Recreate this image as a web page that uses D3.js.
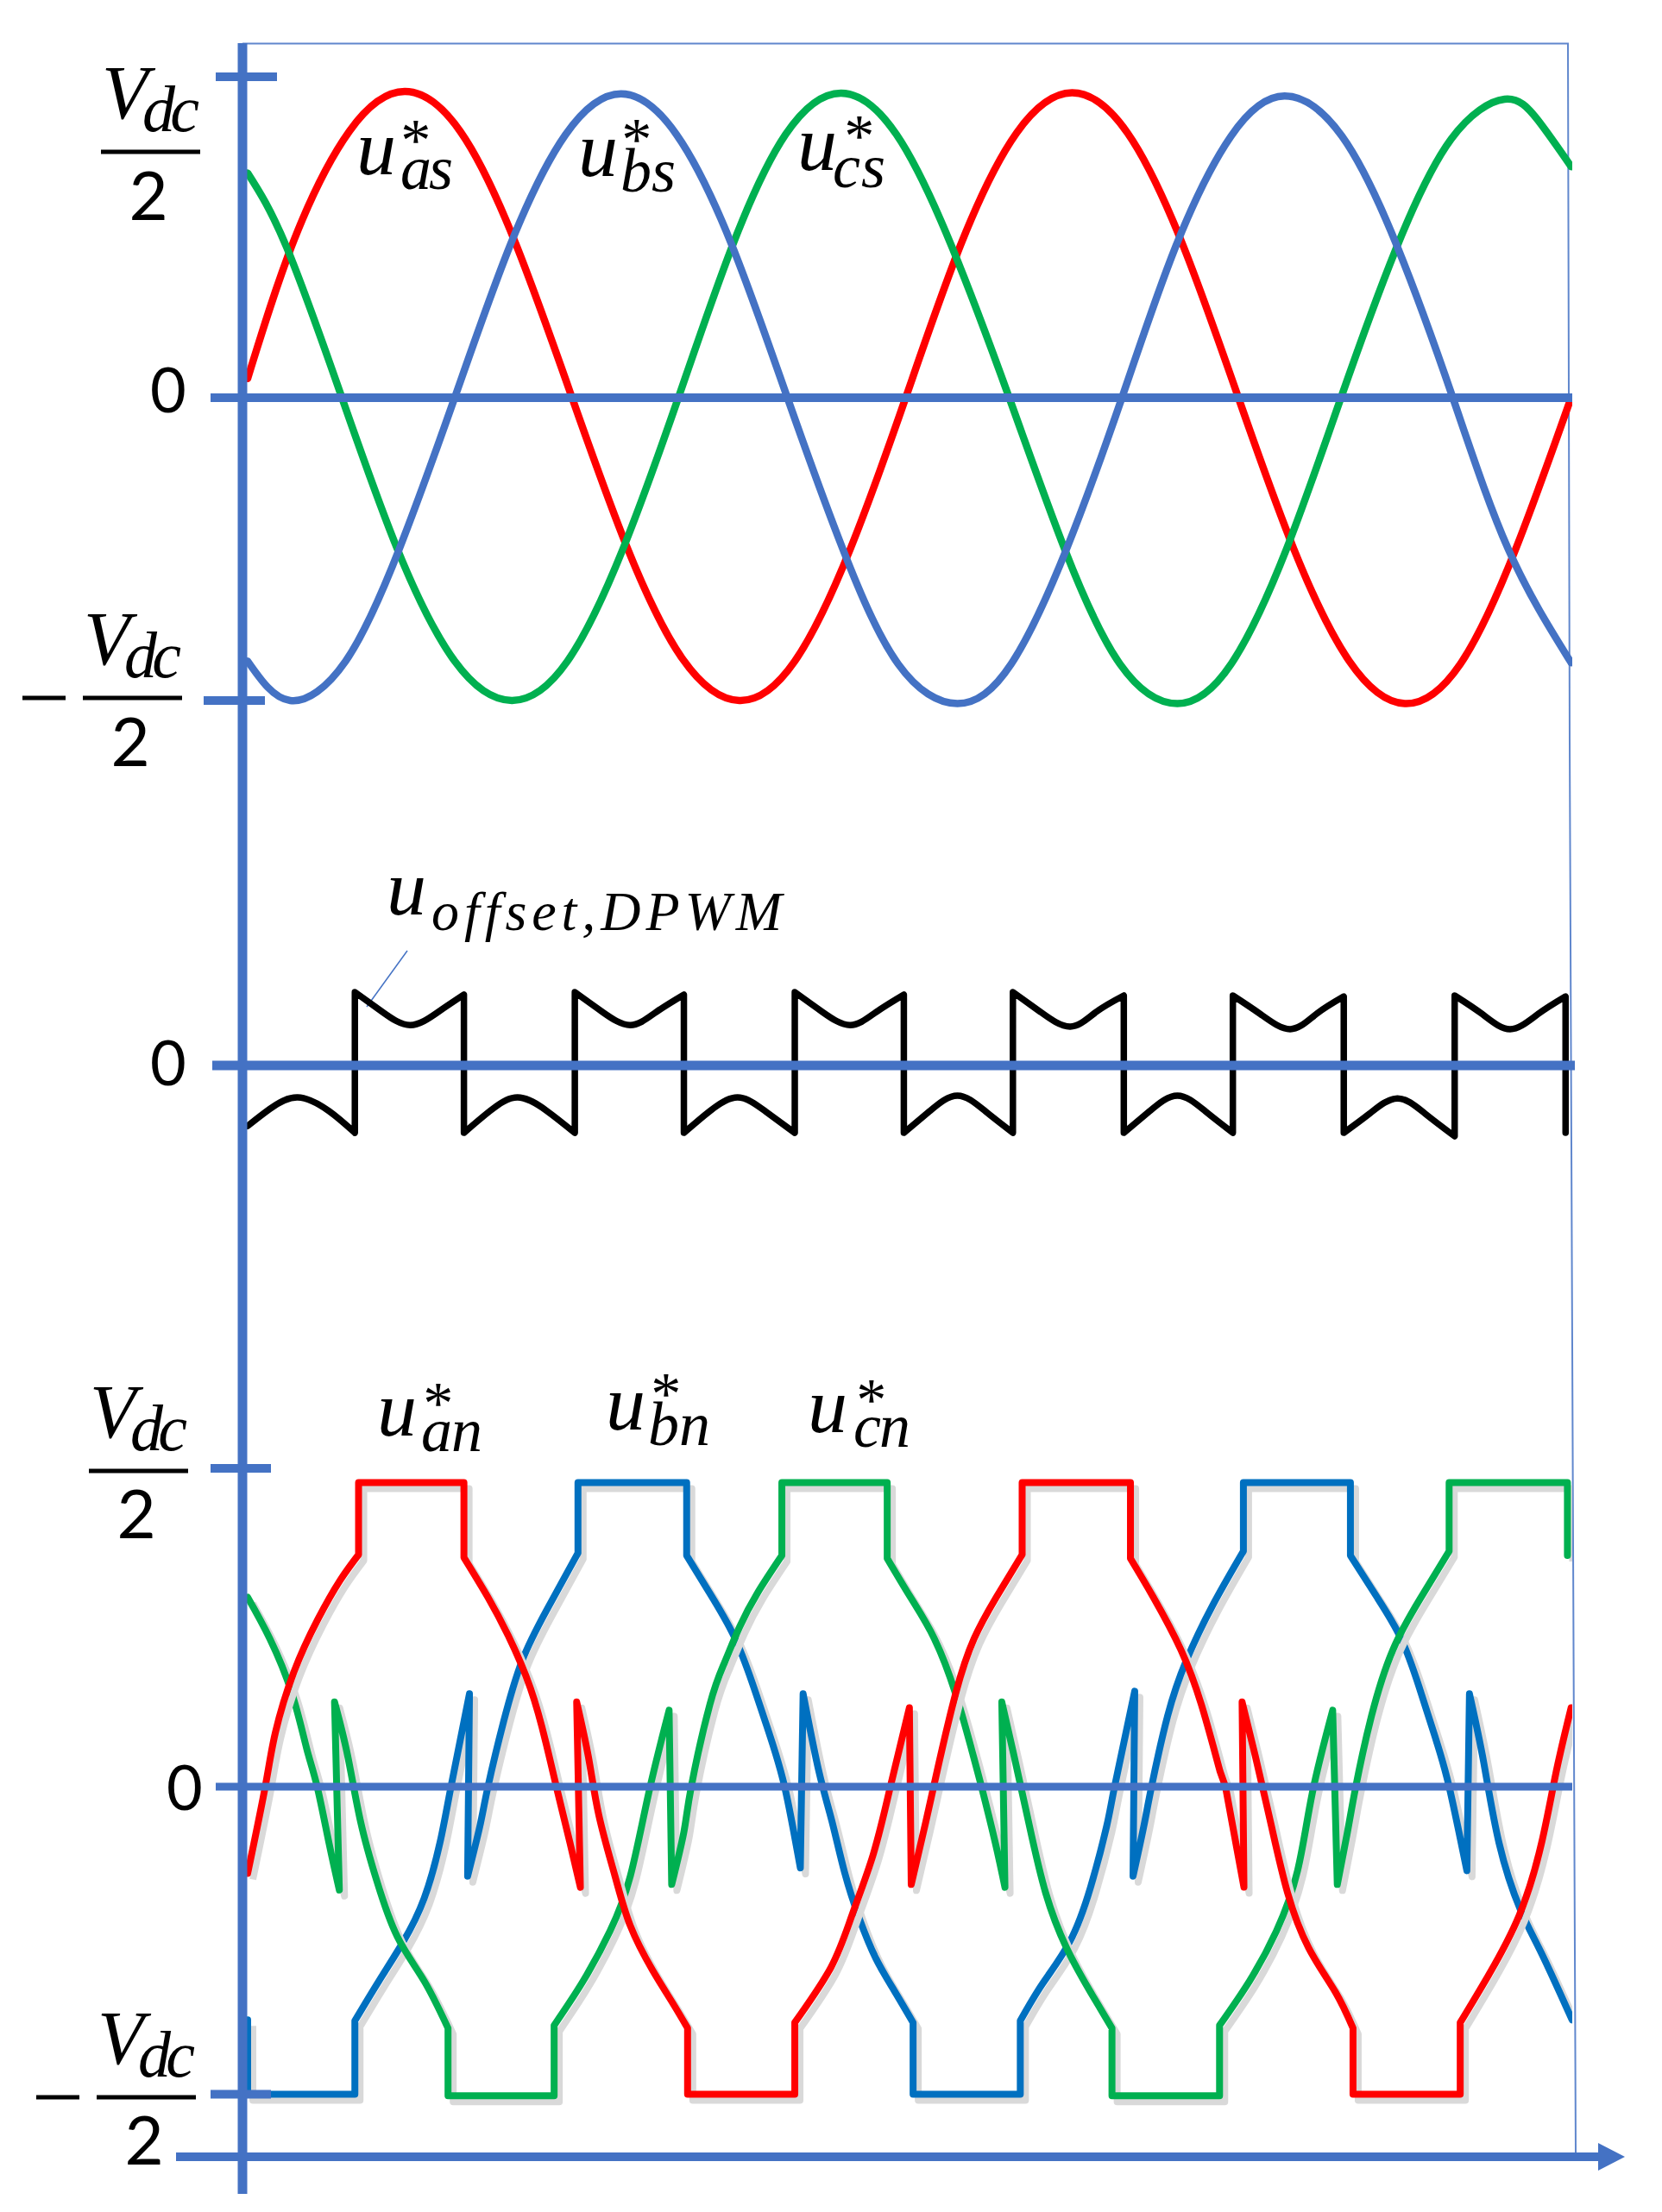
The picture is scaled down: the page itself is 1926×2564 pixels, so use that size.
<!DOCTYPE html>
<html>
<head>
<meta charset="utf-8">
<title>DPWM voltage references</title>
<script src="https://cdn.jsdelivr.net/npm/d3@7"></script>
<style>
  html, body { margin: 0; padding: 0; background: #fff; }
  svg { display: block; }
</style>
</head>
<body>
<script>
// all series are [angle in degrees, voltage in units of Vdc/2]

// top panel: phase voltages
var uAs = [[0,.06],[25,.49],[55,.83],[85,.954],[115,.83],[145,.48],[175.5,0],[205,-.49],[235,-.86],[266,-1],[296,-.87],[326,-.5],[356,0],[386,.48],[416,.825],[446,.95],[476,.825],[506,.475],[536,0],[566,-.5],[596,-.87],[626,-1.01],[656,-.88],[686,-.5],[716,0]];
var uBs = [[0,-.87],[23,-1],[53,-.87],[82,-.5],[112,0],[142,.475],[172,.82],[202,.947],[232,.82],[262,.475],[292,0],[322,-.5],[352,-.88],[384,-1.01],[413,-.88],[443,-.5],[473,0],[502,.47],[532,.815],[561,.94],[592,.815],[622,.47],[652,0],[682,-.5],[716,-.875]];
var uCs = [[0,.7],[21,.47],[51,0],[81,-.5],[112,-.87],[143,-1],[173,-.87],[203,-.5],[233,0],[262,.47],[291,.82],[321,.949],[351,.82],[381,.47],[412,0],[442,-.5],[472,-.88],[503,-1.01],[532,-.88],[562,-.5],[591.5,0],[621,.46],[651,.805],[680,.93],[698,.865],[716,.72]];

// middle panel: offset signal
var uOffset = [
  [0,-.195],[12,-.14],[27,-.103],[44,-.147],[58,-.217],
  [58,.236],[73,.172],[88,.13],[103,.172],[117,.228],
  [117,-.217],[131,-.147],[146,-.103],[162,-.147],[177,-.217],
  [177,.236],[192,.172],[207,.13],[221,.172],[236,.228],
  [236,-.217],[250,-.147],[265,-.103],[280,-.147],[296,-.217],
  [296,.236],[311,.172],[326,.13],[340,.172],[355,.228],
  [355,-.217],[369,-.147],[384,-.097],[399,-.147],[414,-.217],
  [414,.236],[429,.172],[445,.125],[459,.172],[474,.225],
  [474,-.217],[488,-.147],[503,-.097],[518,-.147],[533,-.217],
  [533,.225],[548,.165],[564,.117],[578,.165],[593,.222],
  [593,-.217],[607,-.155],[622,-.106],[637,-.155],[653,-.228],
  [653,.225],[668,.165],[683,.117],[698,.165],[713,.222],
  [713,-.217]
];

// bottom panel: pole voltages after offset injection
var uAn = [[0,-.282],[9.5,0],[15,.17],[25,.36],[38,.526],[50,.648],[60,.729],[60,.955],[117,.955],[117,.72],[130,.595],[141,.474],[153,.309],[161.5,.135],[167,0],[174.4,-.183],[180,-.327],[178,.266],[184.4,.092],[190,-.093],[198.7,-.29],[207,-.452],[219,-.596],[230,-.704],[238,-.785],[238,-1],[296,-1],[296,-.767],[315.6,-.587],[327,-.417],[338.5,-.219],[347.7,0],[358,.248],[359,-.318],[367,-.111],[373,.049],[383,.292],[393,.465],[405,.595],[419,.729],[419,.955],[477.6,.955],[477.6,.717],[490,.595],[504.9,.43],[516,.257],[526,.049],[529,0],[539,-.327],[538,.266],[545,.1],[553.9,-.129],[562.6,-.345],[574,-.524],[588.5,-.668],[598,-.785],[598,-1],[656,-1],[656,-.767],[671.2,-.614],[688,-.417],[700,-.183],[708,.049],[716,.248]];
var uBn = [[0,-.758],[0,-1],[58,-1],[58,-.761],[71,-.632],[84,-.506],[95.5,-.363],[104,-.183],[110,0],[120,.292],[119,-.291],[125.6,-.129],[130,0],[138.5,.205],[148.5,.396],[161.5,.552],[178.7,.734],[178.7,.955],[237.5,.955],[237.5,.726],[250.4,.604],[263,.474],[273,.326],[282,.17],[290.5,0],[299,-.264],[300.5,.292],[309,.049],[316,-.11],[323,-.28],[331,-.43],[340,-.56],[350,-.665],[360,-.767],[360,-1],[418,-1],[418,-.761],[430,-.641],[444.6,-.506],[456,-.327],[464.7,-.129],[469,0],[479.9,.3],[479,-.291],[484.8,-.129],[489,0],[497.7,.222],[507.8,.396],[522,.569],[538.7,.74],[538.7,.955],[596.6,.955],[596.6,.726],[611,.595],[624,.465],[634,.309],[642.6,.153],[650,0],[659.6,-.273],[661,.292],[668.5,.083],[677,-.183],[688.5,-.399],[700,-.542],[716.5,-.758]];
var uCn = [[0,.595],[12,.465],[24,.292],[32,.118],[37.6,0],[44,-.183],[49.6,-.336],[47,.266],[54,.1],[61,-.111],[70,-.309],[81,-.488],[95.5,-.632],[108.4,-.785],[108.4,-1.005],[165.8,-1.005],[165.8,-.776],[181.5,-.632],[196,-.47],[207,-.291],[217,-.02],[228,.24],[229.4,-.318],[236,-.147],[240,0],[250,.257],[258,.39],[266,.5],[276,.61],[289,.726],[289,.955],[346,.955],[346,.717],[358.6,.595],[371.5,.465],[383,.292],[391.6,.118],[397,0],[404.5,-.183],[409.7,-.327],[408,.266],[414.5,.1],[423,-.129],[431.7,-.345],[443,-.524],[456,-.668],[467.6,-.785],[467.6,-1.005],[525.8,-1.005],[525.8,-.776],[542,-.632],[556.5,-.47],[568,-.273],[576,-.02],[587,.24],[589.5,-.318],[595,-.147],[599.5,0],[608,.222],[619.6,.43],[634,.587],[650,.74],[650,.955],[714,.955],[714,.726]];

var AXIS = "#4472C4", RED = "#FF0000", GREEN = "#00B050", BLUE1 = "#4472C4", BLUE3 = "#0070C0";

var svg = d3.select("body").append("svg").attr("width", 1926).attr("height", 2564);
svg.append("rect").attr("width", 1926).attr("height", 2564).attr("fill", "#fff");

var x = d3.scaleLinear().domain([0, 714]).range([287, 1816.4]);
var yTop = d3.scaleLinear().domain([-1, 0, 1]).range([812, 461, 89]);
var yMid = d3.scaleLinear().domain([-1, 1]).range([1595, 875]);
var yBot = d3.scaleLinear().domain([-1, 0, 1]).range([2427.5, 2071, 1702]);

svg.append("clipPath").attr("id", "plot").append("rect")
  .attr("x", 283).attr("y", 40).attr("width", 1539).attr("height", 2500);

// near-vertical jumps split a series into runs; each run is smoothed on its own
function wavePath(points, y) {
  var line = d3.line().x(function(d) { return x(d[0]); }).y(function(d) { return y(d[1]); })
    .curve(d3.curveNatural);
  var runs = [], run = [points[0]];
  for (var i = 1; i < points.length; i++) {
    if (Math.abs(points[i][0] - points[i-1][0]) <= 3) { runs.push(run); run = []; }
    run.push(points[i]);
  }
  runs.push(run);
  return runs.map(function(r, i) {
    // a lone point would come back as a closed dot, so just line to it
    var d = r.length > 1 ? line(r) : "M" + x(r[0][0]) + "," + y(r[0][1]);
    return i ? "L" + d.slice(1) : d;
  }).join("");
}

function drawWave(points, y, color, width, shadow) {
  var g = svg.append("g").attr("clip-path", "url(#plot)");
  if (shadow) {
    g.append("path").attr("d", wavePath(points, y)).attr("transform", "translate(6,7)")
      .attr("fill", "none").attr("stroke", "#d9d9d9").attr("stroke-width", width)
      .attr("stroke-linejoin", "round");
  }
  return g.append("path").attr("d", wavePath(points, y))
    .attr("fill", "none").attr("stroke", color).attr("stroke-width", width)
    .attr("stroke-linejoin", "round").attr("stroke-linecap", "round");
}

function hLine(x1, x2, yy, w, color) {
  svg.append("line").attr("x1", x1).attr("x2", x2).attr("y1", yy).attr("y2", yy)
    .attr("stroke", color || AXIS).attr("stroke-width", w);
}

// frame
svg.append("path").attr("d", "M281,50.5 L1817,50.5 L1819,860 L1822,1560 L1826,2495")
  .attr("fill", "none").attr("stroke", AXIS).attr("stroke-width", 2).attr("opacity", 0.85);

drawWave(uAs, yTop, RED, 8.5);
drawWave(uCs, yTop, GREEN, 8.5);
drawWave(uBs, yTop, BLUE1, 8.5);

svg.append("line").attr("x1", 472).attr("y1", 1102).attr("x2", 425).attr("y2", 1167)
  .attr("stroke", AXIS).attr("stroke-width", 1.5);
drawWave(uOffset, yMid, "#000", 7.5);

drawWave(uBn, yBot, BLUE3, 8, true);
drawWave(uCn, yBot, GREEN, 8, true);
drawWave(uAn, yBot, RED, 8, true);

// axes and ticks
hLine(250, 321, yTop(1), 10);
hLine(244, 1822, yTop(0), 10);
hLine(236, 307, yTop(-1), 10);
hLine(246, 1825, yMid(0), 11);
hLine(244, 314, yBot(1), 10);
hLine(250, 1822, yBot(0), 9);
hLine(244, 314, yBot(-1), 10);

svg.append("line").attr("x1", 281).attr("x2", 281).attr("y1", 50).attr("y2", 2543)
  .attr("stroke", AXIS).attr("stroke-width", 11);
hLine(204, 1855, 2500, 10);
svg.append("path").attr("d", d3.line()([[1852, 2484], [1883, 2500], [1852, 2516]]) + "Z").attr("fill", AXIS);

// text
var MATH = "'Liberation Serif', serif", SANS = "Lato, 'Noto Sans', sans-serif";

// one text element with absolutely placed tspans, so scripts can stack
function mathText(parts) {
  var t = svg.append("text").attr("font-family", MATH).attr("font-style", "italic").attr("fill", "#000");
  parts.forEach(function(p) {
    var s = t.append("tspan").attr("x", p[1]).attr("y", p[2]).attr("font-size", p[3]).text(p[0]);
    if (p[4]) s.attr("textLength", p[4]).attr("lengthAdjust", "spacing");
  });
}
function plain(cx, py, str, size) {
  svg.append("text").attr("x", cx).attr("y", py).text(str).attr("text-anchor", "middle")
    .attr("font-family", SANS).attr("font-size", size).attr("fill", "#000");
}
// Vdc over 2, positioned by the left edge of the bar
function fraction(barX, barY, dy2) {
  mathText([["V", barX + 1, barY - 39, 88], ["dc", barX + 48, barY - 24, 76, 66]]);
  hLine(barX, barX + 115, barY, 5, "#000");
  plain(barX + 55, barY + dy2, "2", 78);
}
function uStar(ux, uy, subText, subX, subY, subW, starX, starY) {
  mathText([["u", ux, uy, 92], ["*", starX, starY, 70], [subText, subX, subY, 72, subW]]);
}

fraction(117, 176, 79);
plain(195, 478, "0", 72);
fraction(96, 809, 79);
hLine(26, 76, 809, 5, "#000");

uStar(413, 202, "as", 464, 219, 61, 461, 186);
uStar(670, 204, "bs", 719, 222, 64, 717, 185);
uStar(924, 197, "cs", 965, 217, 61, 975, 181);

mathText([["u", 448, 1060, 92], ["offset,DPWM", 500, 1078, 64, 406]]);
plain(195, 1258, "0", 72);

fraction(103, 1705, 78);
plain(214, 2098, "0", 72);
fraction(112, 2431, 78);
hLine(42, 92, 2431, 5, "#000");

uStar(437, 1664, "an", 488, 1682, 71, 487, 1650);
uStar(702, 1657, "bn", 751, 1675, 72, 751, 1639);
uStar(936, 1660, "cn", 989, 1677, 66, 989, 1646);
</script>
</body>
</html>
